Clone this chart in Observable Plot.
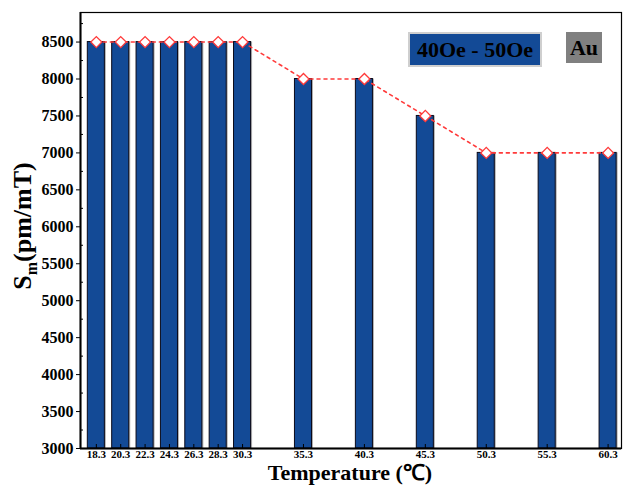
<!DOCTYPE html>
<html>
<head>
<meta charset="utf-8">
<script src="https://cdn.jsdelivr.net/npm/d3@7"></script>
<script src="https://cdn.jsdelivr.net/npm/@observablehq/plot@0.6"></script>
<style>
  body { margin: 0; background: #fff; }
  #wrap { position: relative; width: 623px; height: 486px; font-family: "Liberation Serif", "Times New Roman", serif; font-weight: bold; }
  .box { position: absolute; display: flex; align-items: center; justify-content: center; color: #000; box-sizing: border-box; }
</style>
</head>
<body>
<div id="wrap"></div>
<script>
const temps = [18.3, 20.3, 22.3, 24.3, 26.3, 28.3, 30.3, 35.3, 40.3, 45.3, 50.3, 55.3, 60.3];
const sm = [8500, 8500, 8500, 8500, 8500, 8500, 8500, 8000, 8000, 7500, 7000, 7000, 7000];
const yTicks = [3000, 3500, 4000, 4500, 5000, 5500, 6000, 6500, 7000, 7500, 8000, 8500];
const yMinor = [3250, 3750, 4250, 4750, 5250, 5750, 6250, 6750, 7250, 7750, 8250, 8750];
const legendLabel = "40Oe - 50Oe";
const sampleLabel = "Au";

const data = temps.map((t, i) => ({t, v: sm[i]}));
const half = 0.7;
const base = 3000;
const serif = '"Liberation Serif", "Times New Roman", serif';

const chart = Plot.plot({
  width: 623,
  height: 486,
  marginLeft: 80,
  marginRight: 2,
  marginTop: 12,
  marginBottom: 38,
  style: {fontFamily: serif, fontWeight: "bold", background: "#fff"},
  x: {domain: [17, 61.4]},
  y: {domain: [3000, 8900]},
  marks: [
    Plot.rectY(data, {x1: d => d.t - half, x2: d => d.t + half, y1: base, y2: "v", fill: "#b0b0b0", dx: 1.5}),
    Plot.rectY(data, {x1: d => d.t - half, x2: d => d.t + half, y1: base, y2: "v", fill: "#134a96", stroke: "#0a0a1a", strokeWidth: 1}),
    Plot.line(data, {x: "t", y: "v", stroke: "#ff3a3a", strokeWidth: 1.6, strokeDasharray: "3,4"}),
    Plot.dot(data, {x: "t", y: "v", symbol: "square", r: 4.4, rotate: 45, fill: "#fff", stroke: "#ff3a3a", strokeWidth: 1.3}),
    Plot.axisX({ticks: temps, tickFormat: d => d.toFixed(1), tickSize: -4, tickPadding: 6, fontSize: 11, label: null, stroke: "#000"}),
    Plot.axisY({ticks: yTicks, tickSize: 4, tickPadding: 3, fontSize: 16, label: null, tickFormat: d => String(d)}),
    Plot.axisY({ticks: yMinor, tickSize: -3, tickFormat: () => "", label: null}),
    Plot.frame({stroke: "#000", strokeWidth: 1.2}),
    Plot.ruleX([17], {stroke: "#000", strokeWidth: 2}),
    Plot.ruleY([3000], {stroke: "#000", strokeWidth: 2})
  ]
});

const svg = d3.select(chart);
// x title
svg.append("text")
  .attr("x", 350).attr("y", 480)
  .attr("text-anchor", "middle")
  .attr("font-size", 22).attr("font-weight", "bold")
  .attr("font-family", serif)
  .text("Temperature (℃)");
// y title with subscript
const yt = svg.append("text")
  .attr("transform", "translate(31,226) rotate(-90)")
  .attr("text-anchor", "middle")
  .attr("font-size", 26).attr("font-weight", "bold")
  .attr("font-family", serif);
yt.append("tspan").text("S");
yt.append("tspan").attr("font-size", 16).attr("dy", 6).text("m");
yt.append("tspan").attr("dy", -6).text("(pm/mT)");

const wrap = document.getElementById("wrap");
wrap.appendChild(chart);

const b1 = document.createElement("div");
b1.className = "box";
Object.assign(b1.style, {left: "408px", top: "32px", width: "134px", height: "35px", background: "#134a96", border: "2px solid #cfcfcf", fontSize: "22px"});
b1.textContent = legendLabel;
wrap.appendChild(b1);

const b2 = document.createElement("div");
b2.className = "box";
Object.assign(b2.style, {left: "566px", top: "32px", width: "36px", height: "31px", background: "#808080", fontSize: "22px"});
b2.textContent = sampleLabel;
wrap.appendChild(b2);
</script>
</body>
</html>
